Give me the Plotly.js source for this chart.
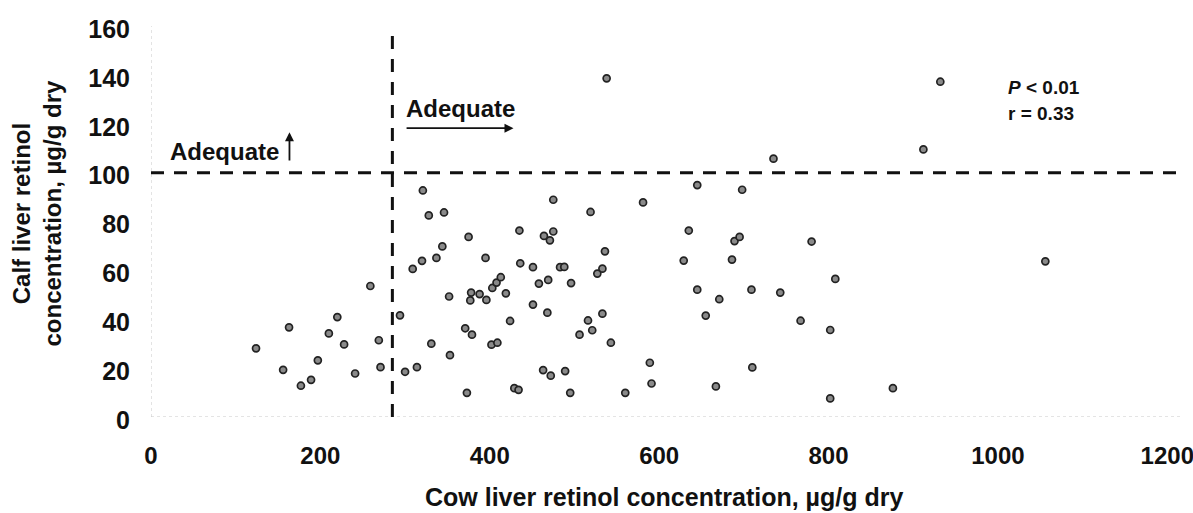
<!DOCTYPE html>
<html>
<head>
<meta charset="utf-8">
<script src="https://cdn.plot.ly/plotly-3.0.1.min.js"></script>
<style>html,body{margin:0;padding:0;background:#fff;}#chart{width:1193px;height:513px;}</style>
</head>
<body>
<div id="chart"></div>
<script>
// Cow liver retinol (µg/g dry), x values
const cowLiverRetinol = [
  124, 156, 163, 177, 189, 197, 210, 220, 228, 241, 259, 269, 271,
  294, 300, 314, 309, 320, 321, 328, 337, 344, 346, 331, 352, 353,
  371, 379, 373, 375, 378, 377, 388, 396, 395, 403, 408, 413, 419,
  424, 402, 409, 429, 434, 435, 436, 451, 451, 458, 469, 468, 463,
  472, 475, 464, 471, 475, 483, 488, 496, 489, 495, 519, 536, 533,
  527, 533, 516, 521, 506, 543, 560,
  645, 698, 581, 635, 689, 695, 780, 629, 686, 808, 645, 671, 709,
  743, 655, 767, 802, 589, 710, 591, 667, 802, 876,
  932, 912, 1056, 538, 735
];
// Calf liver retinol (µg/g dry), y values
const calfLiverRetinol = [
  28.1, 19.3, 36.7, 12.8, 15.2, 23.2, 34.2, 40.9, 29.7, 17.8, 53.6, 31.4, 20.4,
  41.6, 18.5, 20.4, 60.6, 63.9, 92.7, 82.5, 65.1, 69.8, 83.7, 30.0, 49.3, 25.3,
  36.3, 33.7, 9.9, 73.7, 50.9, 47.7, 50.3, 47.9, 65.1, 52.8, 55.0, 57.2, 50.6,
  39.3, 29.6, 30.4, 11.8, 11.1, 76.3, 62.9, 61.3, 46.0, 54.6, 56.1, 42.7, 19.2,
  16.9, 88.9, 74.1, 72.3, 75.9, 61.3, 61.4, 54.8, 18.8, 9.9, 83.9, 67.8, 60.7,
  58.7, 42.3, 39.5, 35.5, 33.7, 30.4, 9.9,
  94.9, 93.0, 87.8, 76.3, 72.0, 73.7, 71.8, 64.0, 64.4, 56.5, 52.1, 48.2, 52.1,
  50.9, 41.5, 39.4, 35.6, 22.2, 20.3, 13.7, 12.5, 7.6, 11.8,
  137.2, 109.5, 63.7, 138.6, 105.7
];
const xTickVals = [0, 200, 400, 600, 800, 1000, 1200];
const yTickVals = [0, 20, 40, 60, 80, 100, 120, 140, 160];
const cowAdequate = 285;   // vertical threshold
const calfAdequate = 100;  // horizontal threshold
const statsText = ['<i>P</i> < 0.01', 'r = 0.33'];

const FAM = 'Liberation Sans, Arial, sans-serif';
const tickFont = {family: FAM, size: 24, color: '#111', weight: 'bold'};

const trace = {
  type: 'scatter',
  mode: 'markers',
  x: cowLiverRetinol,
  y: calfLiverRetinol,
  marker: {symbol: 'circle', size: 7, color: '#8a8a8a', line: {color: '#222', width: 1.7}},
  hoverinfo: 'x+y',
  showlegend: false
};

const layout = {
  width: 1193, height: 513,
  margin: {l: 151, r: 13, t: 26, b: 96, pad: 0},
  paper_bgcolor: '#fff', plot_bgcolor: '#fff',
  xaxis: {
    range: [0, 1215], showgrid: false, zeroline: false, showline: false,
    tickmode: 'array', tickvals: xTickVals, ticktext: xTickVals.map(String),
    ticks: '', tickfont: tickFont, ticklabelstandoff: 22, ticklabeloverflow: 'allow',
    fixedrange: true
  },
  yaxis: {
    range: [0, 160], showgrid: false, zeroline: false, showline: false,
    tickmode: 'array', tickvals: yTickVals, ticktext: yTickVals.map(String),
    ticks: '', tickfont: {family: FAM, size: 25, color: '#111', weight: 'bold'},
    ticklabelstandoff: 20, ticklabelshift: 3, ticklabeloverflow: 'allow', fixedrange: true
  },
  shapes: [
    {type: 'line', xref: 'paper', x0: 0, x1: 1, yref: 'y', y0: 0, y1: 0,
     line: {color: '#c8c8c8', width: 1, dash: 'dot'}},
    {type: 'line', xref: 'x', x0: 0, x1: 0, yref: 'paper', y0: 0, y1: 1,
     line: {color: '#c8c8c8', width: 1, dash: 'dot'}},
    {type: 'line', xref: 'paper', x0: 0, x1: 1, yref: 'y', y0: calfAdequate, y1: calfAdequate,
     line: {color: '#111', width: 3, dash: '13px,10px'}},
    {type: 'line', xref: 'x', x0: cowAdequate, x1: cowAdequate, yref: 'y', y0: 0, y1: 156,
     line: {color: '#111', width: 3, dash: '13px,10px'}}
  ],
  annotations: [
    {xref: 'x', yref: 'y', x: 154, y: 108.8, xanchor: 'right', yanchor: 'middle',
     text: 'Adequate', showarrow: false, font: {family: FAM, size: 24, color: '#111', weight: 'bold'}},
    {xref: 'x', yref: 'y', x: 163.5, y: 116.5, axref: 'x', ayref: 'y', ax: 163.5, ay: 104.3,
     text: '', showarrow: true, arrowhead: 2, arrowsize: 1, arrowwidth: 1.8, arrowcolor: '#111'},
    {xref: 'x', yref: 'y', x: 299, y: 126.4, xanchor: 'left', yanchor: 'middle',
     text: 'Adequate', showarrow: false, font: {family: FAM, size: 24, color: '#111', weight: 'bold'}},
    {xref: 'x', yref: 'y', x: 428, y: 118.2, axref: 'x', ayref: 'y', ax: 300, ay: 118.2,
     text: '', showarrow: true, arrowhead: 2, arrowsize: 1, arrowwidth: 1.8, arrowcolor: '#111'},
    {xref: 'x', yref: 'y', x: 1009, y: 135, xanchor: 'left', yanchor: 'middle',
     text: statsText[0], showarrow: false, font: {family: FAM, size: 19, color: '#111', weight: 'bold'}},
    {xref: 'x', yref: 'y', x: 1009, y: 124.4, xanchor: 'left', yanchor: 'middle',
     text: statsText[1], showarrow: false, font: {family: FAM, size: 19, color: '#111', weight: 'bold'}},
    {xref: 'paper', yref: 'paper', x: 0, y: 0.5, xshift: -115, yshift: 8, xanchor: 'center', yanchor: 'middle',
     textangle: -90, showarrow: false,
     text: 'Calf liver retinol<br>concentration, µg/g dry',
     font: {family: FAM, size: 24, color: '#111', weight: 'bold'}},
    {xref: 'paper', yref: 'paper', x: 0.4986, y: 0, yshift: -80, xanchor: 'center', yanchor: 'middle',
     showarrow: false, text: 'Cow liver retinol concentration, µg/g dry',
     font: {family: FAM, size: 25, color: '#111', weight: 'bold'}}
  ]
};

Plotly.newPlot('chart', [trace], layout, {displayModeBar: false, staticPlot: true});
</script>
</body>
</html>
